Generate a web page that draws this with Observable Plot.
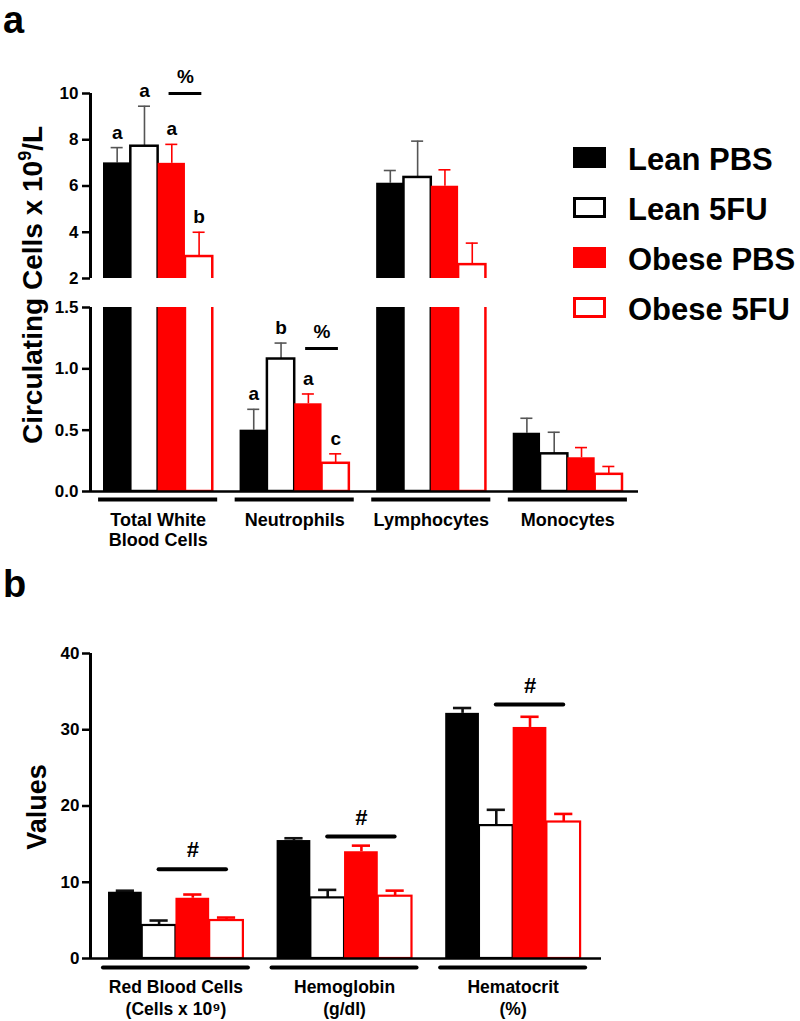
<!DOCTYPE html>
<html><head><meta charset="utf-8">
<script src="https://cdn.jsdelivr.net/npm/d3@7"></script>
<script src="https://cdn.jsdelivr.net/npm/@observablehq/plot@0.6"></script>
<style>
body{margin:0;background:#fff;}
#wrap{position:relative;width:800px;height:1021px;overflow:hidden;background:#fff;}
#wrap > svg{position:absolute;left:0;background:transparent;}
</style></head><body><div id="wrap"></div>
<script>
// ---------- DATA ----------
const seriesNames = ["Lean PBS", "Lean 5FU", "Obese PBS", "Obese 5FU"];

// Panel a: circulating cells (x10^9/L)
const groupsA = ["Total White\nBlood Cells", "Neutrophils", "Lymphocytes", "Monocytes"];
const leanPBS_A   = [7.00, 0.50, 6.12, 0.475];
const lean5FU_A   = [7.72, 1.08, 6.37, 0.307];
const obesePBS_A  = [6.98, 0.715, 5.99, 0.275];
const obese5FU_A  = [2.95, 0.23, 2.60, 0.140];
const leanPBS_A_sem  = [0.66, 0.17, 0.55, 0.122];
const lean5FU_A_sem  = [1.73, 0.13, 1.57, 0.176];
const obesePBS_A_sem = [0.82, 0.08, 0.71, 0.083];
const obese5FU_A_sem = [1.05, 0.077, 0.93, 0.064];
const lettersWBC  = ["a", "a", "a", "b"];
const lettersNeut = ["a", "b", "a", "c"];
const pctGroups = [0, 1];          // groups with "%" comparison (Obese PBS vs Obese 5FU)
const pctLineY  = [10, 1.165];     // height of the "%" bar, in data units

// Panel b: red cell indices
const groupsB = ["Red Blood Cells\n(Cells x 10⁹)", "Hemoglobin\n(g/dl)", "Hematocrit\n(%)"];
const leanPBS_B  = [8.69, 15.47, 32.15];
const lean5FU_B  = [4.33, 7.95, 17.43];
const obesePBS_B = [7.90, 14.00, 30.30];
const obese5FU_B = [4.98, 8.17, 17.90];
const leanPBS_B_sem  = [0.20, 0.30, 0.70];
const lean5FU_B_sem  = [0.65, 1.05, 2.07];
const obesePBS_B_sem = [0.49, 0.80, 1.40];
const obese5FU_B_sem = [0.39, 0.73, 1.06];
const hashLineY = [11.7, 16.0, 33.3];

const ticksUpperA = [2, 4, 6, 8, 10];
const ticksLowerA = [0, 0.5, 1.0, 1.5];
const ticksB = [0, 10, 20, 30, 40];

// ---------- BUILD ----------
const FONT = "'Liberation Sans', Arial, Helvetica, sans-serif";
const STRIDE = 5; // 4 bars + 1 gap slot per group

function buildRows(groups, vals, sems, letters) {
  const rows = [];
  groups.forEach((g, gi) => seriesNames.forEach((s, si) => rows.push({
    group: g, gi, series: s, si, slot: gi * STRIDE + si,
    value: vals[si][gi], err: sems[si][gi],
    letter: (letters[gi] || [])[si] || ""
  })));
  return rows;
}
const rowsA = buildRows(groupsA,
  [leanPBS_A, lean5FU_A, obesePBS_A, obese5FU_A],
  [leanPBS_A_sem, lean5FU_A_sem, obesePBS_A_sem, obese5FU_A_sem],
  [lettersWBC, lettersNeut]);
const rowsB = buildRows(groupsB,
  [leanPBS_B, lean5FU_B, obesePBS_B, obese5FU_B],
  [leanPBS_B_sem, lean5FU_B_sem, obesePBS_B_sem, obese5FU_B_sem],
  []);
const groupRowsA = groupsA.map((g, gi) => ({g, gi}));
const groupRowsB = groupsB.map((g, gi) => ({g, gi}));
const pctRows = pctGroups.map((gi, k) => ({gi, y: pctLineY[k]}));
const hashRows = groupsB.map((g, gi) => ({gi, y: hashLineY[gi]}));

const stylesA = [
  {fill: "#000", stroke: "none", err: "#555"},
  {fill: "#fff", stroke: "#000", err: "#555"},
  {fill: "#ff0000", stroke: "none", err: "#ff0000"},
  {fill: "#fff", stroke: "#ff0000", err: "#ff0000"}
];
const stylesB = [
  {fill: "#000", stroke: "none", err: "#111"},
  {fill: "#fff", stroke: "#000", err: "#111"},
  {fill: "#ff0000", stroke: "none", err: "#ff0000"},
  {fill: "#fff", stroke: "#ff0000", err: "#ff0000"}
];

function barMarks(rows, styles, sw, ew, capHalf) {
  const marks = [];
  styles.forEach((st, si) => {
    const r = rows.filter(d => d.si === si);
    marks.push(Plot.ruleX(r, {x: d => d.slot + 0.5, y1: "value", y2: d => d.value + d.err, stroke: st.err, strokeWidth: ew, clip: true}));
    marks.push(Plot.ruleY(r, {x1: d => d.slot + 0.5 - capHalf, x2: d => d.slot + 0.5 + capHalf, y: d => d.value + d.err, stroke: st.err, strokeWidth: ew, clip: true}));
    marks.push(Plot.rect(r, {x1: d => d.slot, x2: d => d.slot + 1, y1: () => 0, y2: "value", fill: st.fill, stroke: st.stroke, strokeWidth: sw, inset: 0, clip: true}));
  });
  return marks;
}

const wrap = document.getElementById("wrap");
const xDomA = [-0.476, 19.586];
const xDomB = [-0.534, 14.62];
const svgStyle = `font-family:${FONT};font-weight:bold;background:transparent;overflow:visible;`;

function axisMarks(ticks, fmt, pad) {
  return Plot.axisY({ticks, tickFormat: fmt, tickSize: 8, tickPadding: pad, fontSize: 17, fontWeight: "bold", strokeWidth: 2.5, label: null});
}

// Panel a (upper and lower segments of the broken axis)
function plotA(yDomain, ticks, fmt, top, height, mTop, mBottom, isLower) {
  const inRange = v => v >= yDomain[0] && v <= yDomain[1];
  const marks = [
    ...barMarks(rowsA, stylesA, 2.5, 1.6, 0.22),
    Plot.ruleX([xDomA[0]], {stroke: "#000", strokeWidth: 3}),
    axisMarks(ticks, fmt, 4),
    Plot.text(rowsA.filter(d => d.letter && inRange(d.value + d.err) && (isLower ? d.value < yDomain[1] : d.value > yDomain[0])),
      {x: d => d.slot + 0.5, y: d => d.value + d.err, text: "letter", dy: -9, lineAnchor: "bottom", fontSize: 19, fontWeight: "bold", fill: "#000"}),
    Plot.ruleY(pctRows.filter(d => inRange(d.y)), {x1: d => d.gi * STRIDE + 2.4, x2: d => d.gi * STRIDE + 3.6, y: "y", stroke: "#000", strokeWidth: 3}),
    Plot.text(pctRows.filter(d => inRange(d.y)), {x: d => d.gi * STRIDE + 3, y: "y", text: () => "%", dy: -11, lineAnchor: "bottom", fontSize: 19, fontWeight: "bold", fill: "#000"})
  ];
  if (isLower) {
    marks.push(
      Plot.ruleY([0], {stroke: "#000", strokeWidth: 2.5}),
      Plot.ruleY(groupRowsA, {x1: d => d.gi * STRIDE - 0.18, x2: d => d.gi * STRIDE + 4.18, y: () => 0, dy: 8, stroke: "#000", strokeWidth: 4}),
      Plot.text(groupRowsA, {x: d => d.gi * STRIDE + 2, y: () => 0, text: "g", dy: 20, lineAnchor: "top", lineHeight: 1.12, fontSize: 18, fontWeight: "bold", fill: "#000"})
    );
  }
  const p = Plot.plot({
    width: 800, height, marginTop: mTop, marginBottom: mBottom, marginLeft: 90, marginRight: 162,
    style: svgStyle,
    x: {domain: xDomA, axis: null},
    y: {domain: yDomain},
    marks
  });
  p.style.top = top + "px";
  wrap.appendChild(p);
}
plotA([2, 10], ticksUpperA, d3.format("d"), 0, 290, 93, 12, false);
plotA([0, 1.5], ticksLowerA, d3.format(".1f"), 290, 270, 17, 69, true);

// Panel b
{
  const p = Plot.plot({
    width: 800, height: 421, marginTop: 53, marginBottom: 63, marginLeft: 90, marginRight: 199,
    style: svgStyle,
    x: {domain: xDomB, axis: null},
    y: {domain: [0, 40]},
    marks: [
      ...barMarks(rowsB, stylesB, 2.2, 2.6, 0.27),
      Plot.ruleX([xDomB[0]], {stroke: "#000", strokeWidth: 3}),
      Plot.ruleY([0], {stroke: "#000", strokeWidth: 2.5}),
      axisMarks(ticksB, d3.format("d"), 3),
      Plot.ruleY(hashRows, {x1: d => d.gi * STRIDE + 1.5, x2: d => d.gi * STRIDE + 3.5, y: "y", stroke: "#000", strokeWidth: 4, strokeLinecap: "round"}),
      Plot.text(hashRows, {x: d => d.gi * STRIDE + 2.5, y: "y", text: () => "#", dy: -12, lineAnchor: "bottom", fontSize: 22, fontWeight: "bold", fill: "#000"}),
      Plot.ruleY(groupRowsB, {x1: d => d.gi * STRIDE - 0.15, x2: d => d.gi * STRIDE + 4.15, y: () => 0, dy: 9, stroke: "#000", strokeWidth: 4, strokeLinecap: "round"}),
      Plot.text(groupRowsB, {x: d => d.gi * STRIDE + 2, y: () => 0, text: "g", dy: 19, lineAnchor: "top", lineHeight: 1.25, fontSize: 17.5, fontWeight: "bold", fill: "#000"})
    ]
  });
  p.style.top = "600px";
  wrap.appendChild(p);
}

// Overlay: panel letters, axis titles, legend
const ov = d3.select(wrap).append("svg")
  .attr("width", 800).attr("height", 1021)
  .style("position", "absolute").style("top", "0px").style("left", "0px")
  .style("pointer-events", "none")
  .style("font-family", FONT).style("font-weight", "bold");

ov.append("text").attr("x", 3).attr("y", 33).attr("font-size", 38).text("a");
ov.append("text").attr("x", 3).attr("y", 597).attr("font-size", 38).text("b");

const ta = ov.append("text").attr("transform", "translate(42,285) rotate(-90)")
  .attr("text-anchor", "middle").attr("font-size", 28);
ta.append("tspan").text("Circulating Cells x 10");
ta.append("tspan").attr("font-size", 18).attr("dy", -11).text("9");
ta.append("tspan").attr("dy", 11).text("/L");

ov.append("text").attr("transform", "translate(46,807) rotate(-90)")
  .attr("text-anchor", "middle").attr("font-size", 27).text("Values");

const legStyles = stylesA;
seriesNames.forEach((s, i) => {
  const top = 147 + i * 50;
  const st = legStyles[i];
  if (st.stroke === "none") {
    ov.append("rect").attr("x", 573).attr("y", top).attr("width", 33).attr("height", 21).attr("fill", st.fill);
  } else {
    ov.append("rect").attr("x", 574.5).attr("y", top + 1.5).attr("width", 30).attr("height", 18)
      .attr("fill", "#fff").attr("stroke", st.stroke).attr("stroke-width", 3);
  }
  ov.append("text").attr("x", 628).attr("y", top + 23).attr("font-size", 31).text(s);
});
</script></body></html>
